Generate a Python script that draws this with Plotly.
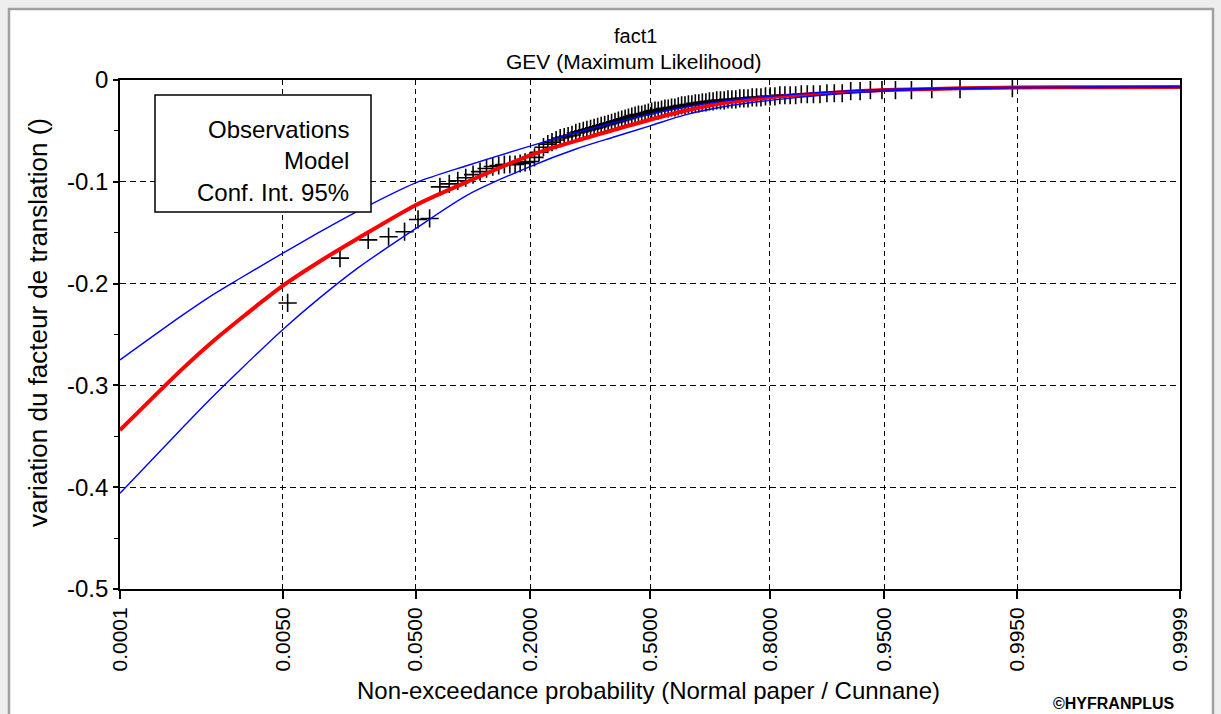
from statistics import NormalDist
import plotly.graph_objects as go

# ---------------- data ----------------
# Observations: non-exceedance probability (Cunnane) and value
obs_prob = [0.0055, 0.0148, 0.0240, 0.0333, 0.0425, 0.0518, 0.0610, 0.0702, 0.0795, 0.0887,
            0.0980, 0.1072, 0.1165, 0.1257, 0.1349, 0.1442, 0.1534, 0.1627, 0.1719, 0.1811,
            0.1904, 0.1996, 0.2089, 0.2181, 0.2274, 0.2366, 0.2458, 0.2551, 0.2643, 0.2736,
            0.2828, 0.2920, 0.3013, 0.3105, 0.3198, 0.3290, 0.3383, 0.3475, 0.3567, 0.3660,
            0.3752, 0.3845, 0.3937, 0.4030, 0.4122, 0.4214, 0.4307, 0.4399, 0.4492, 0.4584,
            0.4677, 0.4769, 0.4861, 0.4954, 0.5046, 0.5139, 0.5231, 0.5323, 0.5416, 0.5508,
            0.5601, 0.5693, 0.5786, 0.5878, 0.5970, 0.6063, 0.6155, 0.6248, 0.6340, 0.6433,
            0.6525, 0.6617, 0.6710, 0.6802, 0.6895, 0.6987, 0.7079, 0.7172, 0.7264, 0.7357,
            0.7449, 0.7542, 0.7634, 0.7726, 0.7819, 0.7911, 0.8004, 0.8096, 0.8189, 0.8281,
            0.8373, 0.8466, 0.8558, 0.8651, 0.8743, 0.8835, 0.8928, 0.9020, 0.9113, 0.9205,
            0.9298, 0.9390, 0.9482, 0.9575, 0.9667, 0.9760, 0.9852, 0.9945]
obs_value = [-0.219, -0.175, -0.157, -0.154, -0.149, -0.137, -0.136, -0.105, -0.102, -0.099,
             -0.096, -0.093, -0.090, -0.087, -0.085, -0.084, -0.083, -0.083, -0.083, -0.082,
             -0.081, -0.080, -0.076, -0.071, -0.066, -0.063, -0.061, -0.059, -0.057, -0.056,
             -0.055, -0.054, -0.052, -0.051, -0.050, -0.049, -0.048, -0.047, -0.046, -0.045,
             -0.044, -0.043, -0.042, -0.041, -0.040, -0.039, -0.038, -0.037, -0.036, -0.035,
             -0.034, -0.034, -0.033, -0.032, -0.031, -0.030, -0.030, -0.029, -0.028, -0.028,
             -0.027, -0.027, -0.026, -0.025, -0.025, -0.024, -0.024, -0.023, -0.023, -0.022,
             -0.022, -0.021, -0.021, -0.020, -0.020, -0.020, -0.019, -0.019, -0.019, -0.018,
             -0.018, -0.018, -0.017, -0.017, -0.017, -0.016, -0.016, -0.016, -0.015, -0.015,
             -0.015, -0.015, -0.014, -0.014, -0.014, -0.014, -0.013, -0.013, -0.013, -0.011,
             -0.011, -0.010, -0.010, -0.010, -0.010, -0.009, -0.009, -0.008]

# Fitted GEV model and 95% confidence interval
model_prob = [0.0001, 0.0005, 0.001, 0.002, 0.005, 0.01, 0.02, 0.05, 0.1, 0.2, 0.3, 0.4,
              0.5, 0.6, 0.7, 0.8, 0.9, 0.95, 0.98, 0.99, 0.995, 0.999, 0.9999]
model_value = [-0.344, -0.285, -0.2595, -0.235, -0.202, -0.179, -0.156, -0.123, -0.100, -0.074,
               -0.060, -0.049, -0.039, -0.030, -0.0225, -0.017, -0.0125, -0.0098, -0.0085,
               -0.0078, -0.0074, -0.0071, -0.0069]
ci_upper = [-0.275, -0.232, -0.213, -0.195, -0.170, -0.150, -0.129, -0.101, -0.084, -0.065,
            -0.052, -0.042, -0.0335, -0.0265, -0.0205, -0.016, -0.0115, -0.0092, -0.0080,
            -0.0074, -0.0071, -0.0069, -0.0068]
ci_lower = [-0.406, -0.343, -0.314, -0.285, -0.245, -0.215, -0.185, -0.146, -0.113, -0.085,
            -0.068, -0.056, -0.045, -0.034, -0.026, -0.020, -0.014, -0.0108, -0.0090,
            -0.0082, -0.0077, -0.0073, -0.0070]

tick_prob = [0.0001, 0.005, 0.05, 0.2, 0.5, 0.8, 0.95, 0.995, 0.9999]
tick_text = ["0.0001", "0.0050", "0.0500", "0.2000", "0.5000", "0.8000", "0.9500", "0.9950", "0.9999"]
ytick_vals = [-0.5, -0.4, -0.3, -0.2, -0.1, 0.0]
ytick_text = ["-0.5", "-0.4", "-0.3", "-0.2", "-0.1", "0"]

# ---------------- normal-probability paper scale ----------------
nd = NormalDist()
def zq(p):
    return nd.inv_cdf(p)

FONT = "Liberation Sans, Arial, sans-serif"

fig = go.Figure()
fig.add_trace(go.Scatter(
    x=[zq(p) for p in obs_prob], y=obs_value, mode="markers", name="Observations",
    marker=dict(symbol="cross-thin", size=13, color="black", line=dict(width=1.6, color="black")),
    cliponaxis=True))
fig.add_trace(go.Scatter(
    x=[zq(p) for p in model_prob], y=model_value, mode="lines", name="Model",
    line=dict(color="#ff0000", width=4, shape="spline", smoothing=0.8)))
fig.add_trace(go.Scatter(
    x=[zq(p) for p in model_prob], y=ci_upper, mode="lines", name="Conf. Int. 95%",
    line=dict(color="#0000ff", width=1.4, shape="spline", smoothing=0.8)))
fig.add_trace(go.Scatter(
    x=[zq(p) for p in model_prob], y=ci_lower, mode="lines", name="Conf. Int. 95% (low)",
    line=dict(color="#0000ff", width=1.4, shape="spline", smoothing=0.8)))

# plot area in pixels: x 120..1180, y 80..589
L, R, T, B = 120, 1180, 80, 589
def px(xp):
    return (xp - L) / (R - L)
def py(yp):
    return (B - yp) / (B - T)

ann = []
for txt, xx, yy, sz in [("fact1", 635, 36, 20),
                        ("GEV (Maximum Likelihood)", 634, 61, 21),
                        ("Non-exceedance probability (Normal paper / Cunnane)", 648, 690, 24)]:
    ann.append(dict(text=txt, x=px(xx), y=py(yy), xref="paper", yref="paper",
                    xanchor="center", yanchor="middle", showarrow=False,
                    font=dict(family=FONT, size=sz, color="black")))
ann.append(dict(text="variation du facteur de translation ()", x=px(38), y=py(323),
                xref="paper", yref="paper", xanchor="center", yanchor="middle",
                textangle=-90, showarrow=False, font=dict(family=FONT, size=26, color="black")))
for txt, yy in [("Observations", 129), ("Model", 160), ("Conf. Int. 95%", 192)]:
    ann.append(dict(text=txt, x=px(351), y=py(yy), xref="paper", yref="paper",
                    xanchor="right", yanchor="middle", showarrow=False,
                    font=dict(family=FONT, size=24, color="black")))
ann.append(dict(text="<b>©HYFRANPLUS</b>", x=px(1113), y=py(703), xref="paper", yref="paper",
                xanchor="center", yanchor="middle", showarrow=False,
                font=dict(family=FONT, size=16, color="black")))

shapes = [
    # window frame
    dict(type="rect", xref="paper", yref="paper", x0=px(9), x1=px(1213), y0=py(730), y1=py(9),
         line=dict(color="#a0a0a0", width=2.5), fillcolor="white", layer="below"),
    # legend box
    dict(type="rect", xref="paper", yref="paper", x0=px(155), x1=px(371), y0=py(212), y1=py(95),
         line=dict(color="black", width=1.5), fillcolor="white", layer="above"),
]

fig.update_layout(
    width=1221, height=714, autosize=False,
    margin=dict(l=L, r=1221 - R, t=T, b=714 - B, pad=0),
    paper_bgcolor="#eeeeee", plot_bgcolor="white",
    showlegend=False,
    font=dict(family=FONT, size=21, color="black"),
    annotations=ann, shapes=shapes,
)
fig.update_xaxes(
    range=[zq(0.0001), zq(0.9999)], tickmode="array",
    tickvals=[zq(p) for p in tick_prob], ticktext=tick_text, tickangle=-90,
    tickfont=dict(family=FONT, size=21, color="black"),
    ticks="outside", ticklen=8, tickwidth=1.5, tickcolor="black",
    showgrid=True, gridcolor="black", gridwidth=1.3, griddash="5px,4px",
    showline=True, linecolor="black", linewidth=1.8, mirror=True, zeroline=False,
)
fig.update_yaxes(
    range=[-0.5, 0.0], tickmode="array", tickvals=ytick_vals, ticktext=ytick_text,
    tickfont=dict(family=FONT, size=24, color="black"),
    ticks="outside", ticklen=5, tickwidth=1.5, tickcolor="black",
    minor=dict(ticks="outside", ticklen=4, tickwidth=1.2, tickcolor="black",
               tickvals=[-0.45, -0.35, -0.25, -0.15, -0.05], showgrid=False),
    showgrid=True, gridcolor="black", gridwidth=1, griddash="6px,4px",
    showline=True, linecolor="black", linewidth=1.8, mirror=True, zeroline=False,
)

fig.write_html("out.html", config={"displayModeBar": False},
               post_script="document.body.style.margin='0';")
